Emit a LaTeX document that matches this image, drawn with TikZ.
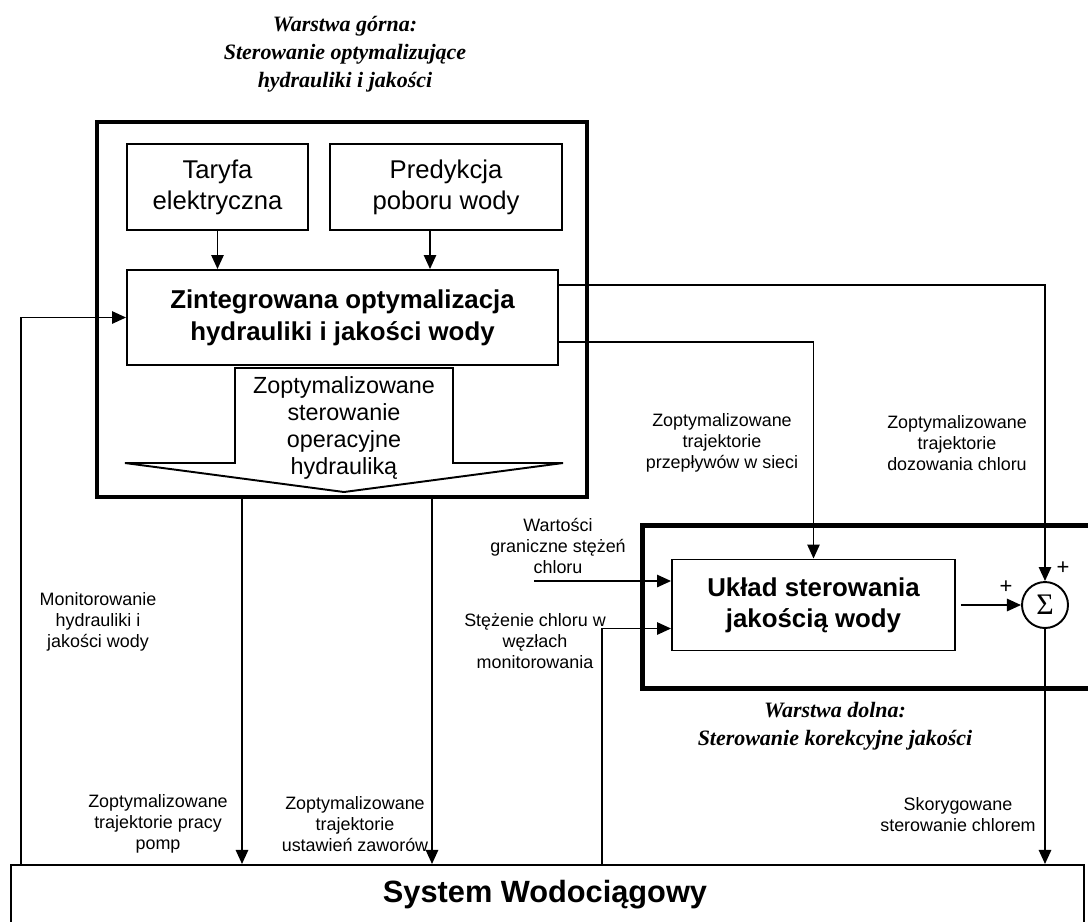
\documentclass[tikz,border=0pt]{standalone}
\usepackage{fontspec}
\setmainfont{Liberation Sans}
\newfontfamily\titlefont{Liberation Serif}
\usetikzlibrary{arrows.meta}
\tikzset{
  box/.style={draw,line width=1.1pt,align=center,inner sep=0pt},
  frame/.style={draw,line width=2.6pt,inner sep=0pt},
  lbl/.style={font=\fontsize{10.2}{11.9}\selectfont,align=center,inner sep=0pt},
  ttl/.style={font=\titlefont\bfseries\itshape\fontsize{12.5}{15.9}\selectfont,align=center,inner sep=0pt},
  arr/.style={line width=1.1pt,-{Triangle[length=8pt,width=7pt]}},
  ln/.style={line width=1.1pt}
}
\begin{document}
\begin{tikzpicture}[x=0.02cm,y=-0.02cm]
\useasboundingbox (0,0) rectangle (1088,921);
\clip (0,0) rectangle (1088,921);

% warstwa gorna
\node [ttl] (ttlup) at (345,54) {Warstwa górna:\\Sterowanie optymalizujące\\hydrauliki i jakości};
\node [frame,minimum width=9.8cm,minimum height=7.5cm] (upper) at (342,309.5) {};
\node [box,minimum width=3.62cm,minimum height=1.72cm,font=\fontsize{14.6}{17.6}\selectfont] (tar) at (217.5,187) {Taryfa\\elektryczna};
\node [box,minimum width=4.64cm,minimum height=1.72cm,font=\fontsize{14.6}{17.6}\selectfont] (pred) at (446,187) {Predykcja\\poboru wody};
\node [box,minimum width=8.62cm,minimum height=1.9cm,font=\bfseries\fontsize{14.7}{18.1}\selectfont] (zint) at (342.5,317.5) {Zintegrowana optymalizacja\\hydrauliki i jakości wody};
\draw [arr] (tar.south) -- (tar.south |- zint.north);
\draw [arr] ([xshift=-0.32cm]pred.south) -- ([xshift=-0.32cm]pred.south |- zint.north);

% strzalka sterowania
\draw [ln] (235,368) -- (453,368) -- (453,463) -- (563,463) -- (344,492) -- (125,463) -- (235,463) -- cycle;
\node [align=center,inner sep=0pt,font=\fontsize{13.3}{15.3}\selectfont] (ster) at (344,428) {Zoptymalizowane\\sterowanie\\operacyjne\\hydrauliką};

% warstwa dolna
\node [frame,anchor=north west,minimum width=9.4cm,minimum height=3.26cm] (lower) at (640,523) {};
\node [box,minimum width=5.66cm,minimum height=1.82cm,font=\bfseries\fontsize{14.7}{17.6}\selectfont] (uklad) at (813.5,605) {Układ sterowania\\jakością wody};
\node [draw,circle,line width=1.1pt,minimum size=0.92cm,inner sep=0pt,font=\titlefont\fontsize{17}{17}\selectfont] (sum) at (1045,605) {Σ};
\node [inner sep=0pt,font=\fontsize{12.5}{12.5}\selectfont] (plus1) at (1006,587) {+};
\node [inner sep=0pt,font=\fontsize{12.5}{12.5}\selectfont] (plus2) at (1063,568) {+};
\node [ttl] (ttllow) at (835,726) {Warstwa dolna:\\Sterowanie korekcyjne jakości};

% system
\node [box,anchor=north west,minimum width=21.46cm,minimum height=2cm] (system) at (10,864) {};
\node [inner sep=0pt,font=\bfseries\fontsize{17.5}{20}\selectfont] (systxt) at (545,895) {System Wodociągowy};

% polaczenia
\coordinate (fb) at (21,864);
\coordinate (pompy) at (242,497);
\coordinate (zawory) at (432,497);
\coordinate (war) at (534,581);
\coordinate (mon) at (602,864);
\draw [arr] (fb) |- (zint.west);
\draw [arr] ([yshift=0.65cm]zint.east) -| (sum.north);
\draw [arr] ([yshift=-0.49cm]zint.east) -| (uklad.north);
\draw [arr] (pompy) -- (pompy |- system.north);
\draw [arr] (zawory) -- (zawory |- system.north);
\draw [arr] (war) -- (war -| uklad.west);
\draw [arr] (mon) |- ([yshift=-0.47cm]uklad.west);
\draw [arr] ([xshift=0.1cm]uklad.east) -- (sum.west);
\draw [arr] (sum.south) -- (sum.south |- system.north);

% opisy
\node [lbl] (lmon) at (98,622) {Monitorowanie\\hydrauliki i\\jakości wody};
\node [lbl] (lpom) at (158,824) {Zoptymalizowane\\trajektorie pracy\\pomp};
\node [lbl] (lzaw) at (355,824) {Zoptymalizowane\\trajektorie\\ustawień zaworów};
\node [lbl] (lprz) at (722,443) {Zoptymalizowane\\trajektorie\\przepływów w sieci};
\node [lbl] (ldoz) at (957,443) {Zoptymalizowane\\trajektorie\\dozowania chloru};
\node [lbl] (lwar) at (558,546) {Wartości\\graniczne stężeń\\chloru};
\node [lbl] (lste) at (535,641) {Stężenie chloru w\\węzłach\\monitorowania};
\node [lbl] (lsko) at (958,815) {Skorygowane\\sterowanie chlorem};
\end{tikzpicture}
\end{document}
